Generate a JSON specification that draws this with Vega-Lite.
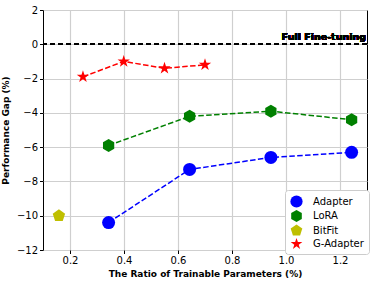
{
  "$schema": "https://vega.github.io/schema/vega-lite/v6.json",
  "width": 324,
  "height": 240,
  "autosize": {"type": "none"},
  "padding": {"left": 43, "top": 10, "right": 7, "bottom": 35},
  "background": "white",
  "config": {
    "font": "DejaVu Sans",
    "view": {"stroke": "black", "strokeWidth": 1},
    "axis": {
      "grid": true,
      "gridColor": "#cfcfcf", "gridWidth": 1.2, "gridOpacity": 1,
      "domain": false,
      "tickColor": "black", "tickSize": 3.5,
      "labelOverlap": false,
      "labelFont": "DejaVu Sans", "labelFontSize": 10, "labelColor": "black",
      "titleFont": "DejaVu Sans", "titleFontSize": 9, "titleFontWeight": "bold", "titleColor": "black"
    }
  },
  "data": {
    "values": [
      {"method": "Adapter", "ratio": 0.343, "gap": -10.4},
      {"method": "Adapter", "ratio": 0.643, "gap": -7.3},
      {"method": "Adapter", "ratio": 0.944, "gap": -6.6},
      {"method": "Adapter", "ratio": 1.243, "gap": -6.3},
      {"method": "LoRA", "ratio": 0.343, "gap": -5.9},
      {"method": "LoRA", "ratio": 0.643, "gap": -4.2},
      {"method": "LoRA", "ratio": 0.944, "gap": -3.9},
      {"method": "LoRA", "ratio": 1.243, "gap": -4.4},
      {"method": "BitFit", "ratio": 0.159, "gap": -10.0},
      {"method": "G-Adapter", "ratio": 0.248, "gap": -1.9},
      {"method": "G-Adapter", "ratio": 0.399, "gap": -1.0},
      {"method": "G-Adapter", "ratio": 0.55, "gap": -1.4},
      {"method": "G-Adapter", "ratio": 0.70, "gap": -1.2}
    ]
  },
  "encoding": {
    "x": {"field": "ratio", "type": "quantitative",
      "scale": {"domain": [0.1, 1.3], "nice": false},
      "axis": {"values": [0.2, 0.4, 0.6, 0.8, 1.0, 1.2], "format": ".1f", "title": "The Ratio of Trainable Parameters (%)", "titlePadding": 4}},
    "y": {"field": "gap", "type": "quantitative",
      "scale": {"domain": [-12, 2], "nice": false},
      "axis": {"values": [-12, -10, -8, -6, -4, -2, 0, 2], "labelExpr": "replace(format(datum.value, 'd'), '-', '\u2212')", "title": "Performance Gap (%)", "titlePadding": 6}}
  },
  "layer": [
    {
      "mark": {"type": "line", "strokeDash": [5.5, 2.4], "strokeWidth": 1.5},
      "encoding": {
        "color": {"field": "method", "type": "nominal",
          "scale": {"domain": ["Adapter", "LoRA", "BitFit", "G-Adapter"], "range": ["#0000ff", "#008000", "#bfbf00", "#ff0000"]}}
      }
    },
    {
      "mark": {"type": "point", "filled": true, "opacity": 1, "size": 169},
      "encoding": {
        "color": {"field": "method", "type": "nominal", "title": null,
          "scale": {"domain": ["Adapter", "LoRA", "BitFit", "G-Adapter"], "range": ["#0000ff", "#008000", "#bfbf00", "#ff0000"]},
          "legend": {"orient": "none", "legendX": 242, "legendY": 180, "padding": 5, "strokeColor": "#cccccc", "fillColor": "white", "cornerRadius": 3, "labelFontSize": 10, "labelFont": "DejaVu Sans", "labelColor": "black", "symbolSize": 150, "rowPadding": 1.5, "labelOffset": 10, "symbolOpacity": 1, "symbolStrokeWidth": 0}},
        "shape": {"field": "method", "type": "nominal", "title": null,
          "scale": {"domain": ["Adapter", "LoRA", "BitFit", "G-Adapter"], "range": [
            "circle",
            "M0,-1L-0.866,-0.5L-0.866,0.5L0,1L0.866,0.5L0.866,-0.5Z",
            "M0,-1L0.951,-0.309L0.588,0.809L-0.588,0.809L-0.951,-0.309Z",
            "M0,-1L0.2245,-0.309L0.951,-0.309L0.363,0.118L0.588,0.809L0,0.382L-0.588,0.809L-0.363,0.118L-0.951,-0.309L-0.2245,-0.309Z"
          ]}}
      }
    },
    {
      "mark": {"type": "rule", "color": "black", "strokeDash": [5, 3], "strokeWidth": 1.5},
      "encoding": {"y": {"datum": 0, "type": "quantitative"}, "x": null}
    },
    {
      "mark": {"type": "text", "text": "Full Fine-tuning", "align": "right", "baseline": "bottom", "fontWeight": "bold", "fontSize": 9.5, "dy": -2, "dx": -1, "font": "DejaVu Sans"},
      "encoding": {
        "x": {"datum": 1.3, "type": "quantitative"},
        "y": {"datum": 0, "type": "quantitative"}
      }
    }
  ]
}
